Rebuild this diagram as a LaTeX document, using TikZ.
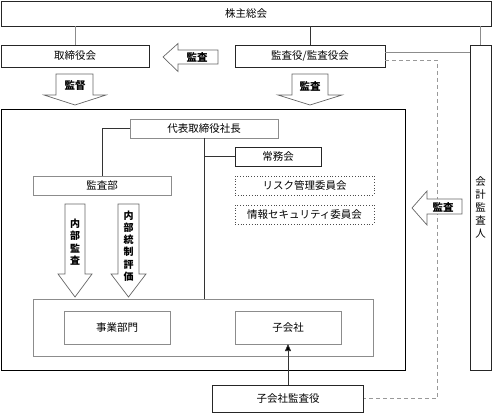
\documentclass[tikz,border=0pt]{standalone}
\usepackage{fontspec}
\setmainfont{Noto Sans CJK JP}
\usetikzlibrary{arrows.meta,calc}
\tikzset{
  box/.style={draw=black!85, line width=0.8pt, inner sep=0pt, outer sep=0pt, font=\fontsize{10.5}{12}\selectfont},
  gbox/.style={box, draw=black!45},
  dbox/.style={box, draw=black!70, dotted, line width=0.7pt},
  conn/.style={draw=black!80, line width=0.7pt},
  gconn/.style={draw=black!45, line width=0.8pt},
  dconn/.style={draw=black!40, dashed, line width=0.7pt, dash pattern=on 4pt off 3pt},
  barrow/.style={draw=black!60, fill=white, line width=0.7pt},
  blabel/.style={inner sep=0pt, font=\fontsize{10.5}{12}\selectfont\bfseries},
  vlabel/.style={inner sep=0pt, align=center, font=\fontsize{10}{12.3}\selectfont\bfseries},
}
\begin{document}
\begin{tikzpicture}[x=1pt,y=-1pt]
\useasboundingbox (0,0) rectangle (493,414);

% outer frame of the executive area
\draw[line width=1pt, draw=black] (1,110) rectangle (405,370);

% boxes
\node[box, minimum width=490pt, minimum height=25pt] (top) at (246,13.5) {株主総会};
\node[box, minimum width=148pt, minimum height=22pt] (tori) at (75,56) {取締役会};
\node[box, minimum width=150pt, minimum height=22pt] (kansa) at (310,56) {監査役/監査役会};
\node[box, minimum width=21pt, minimum height=325pt, align=center,
      font=\fontsize{10.5}{13}\selectfont] (kaikei) at (480.5,207.5) {会\\計\\監\\査\\人};
\node[gbox, minimum width=148pt, minimum height=19pt] (daihyo) at (204,128.5) {代表取締役社長};
\node[box, minimum width=86pt, minimum height=19pt] (jomu) at (278,156.5) {常務会};
\node[dbox, minimum width=139pt, minimum height=19pt] (risk) at (304.5,185.5) {リスク管理委員会};
\node[dbox, minimum width=139pt, minimum height=19pt] (joho) at (304.5,214.5) {情報セキュリティ委員会};
\node[gbox, minimum width=138pt, minimum height=19pt] (kansabu) at (102,185.5) {監査部};
\node[gbox, minimum width=340pt, minimum height=57pt] (group) at (203,327.5) {};
\node[gbox, minimum width=106pt, minimum height=33pt] (jigyo) at (117,327.5) {事業部門};
\node[gbox, minimum width=106pt, minimum height=33pt] (kogaisha) at (288,327.5) {子会社};
\node[box, minimum width=151pt, minimum height=27pt] (kokansa) at (288,398.5) {子会社監査役};

% connectors from shareholders meeting
\draw[gconn] (tori.north) -- (tori.north |- top.south);
\draw[conn] (kansa.north) -- (kansa.north |- top.south);
\draw[gconn] (kaikei.north) -- (kaikei.north |- top.south);
\draw[gconn] (kansa.east |- 0,52) -- (kaikei.west |- 0,52);
\draw[dconn] (kansa.east |- 0,60) -- (437,60) -- (437,398.5) -- (kokansa.east);

% executive connectors
\draw[conn] (daihyo.west) -| (kansabu.north);
\draw[conn] (daihyo.south) -- (daihyo.south |- group.north);
\draw[conn] (daihyo.south |- jomu.west) -- (jomu.west);
\draw[conn, -{Triangle[length=7pt,width=6pt,fill=black]}] (kokansa.north) -- (kogaisha.south);

% block arrows
% 監査 (left, top)
\draw[barrow] (218,50) -- (178,50) -- (178,43.5) -- (163,57) -- (178,71.5) -- (178,64) -- (218,64) -- cycle;
\node[blabel] (la1) at (197,57) {監査};
% 監督 (down)
\draw[barrow] (56,74) -- (93,74) -- (93,95) -- (106,95) -- (75,105) -- (44,95) -- (56,95) -- cycle;
\node[blabel] (la2) at (75,86) {監督};
% 監査 (down)
\draw[barrow] (292,74) -- (328,74) -- (328,95) -- (342,95) -- (310,105) -- (278,95) -- (292,95) -- cycle;
\node[blabel] (la3) at (310,86) {監査};
% 監査 (left, right side)
\draw[barrow] (462,199) -- (427,199) -- (427,191) -- (412,208) -- (427,225) -- (427,214) -- (462,214) -- cycle;
\node[blabel] (la4) at (443,207) {監査};
% 内部監査
\draw[barrow] (65,204) -- (85,204) -- (85,274) -- (92,274) -- (75,297) -- (58,274) -- (65,274) -- cycle;
\node[vlabel] (la5) at (75,242) {内\\部\\監\\査};
% 内部統制評価
\draw[barrow] (118,204) -- (139,204) -- (139,274) -- (146,274) -- (128.5,297) -- (111,274) -- (118,274) -- cycle;
\node[vlabel] (la6) at (128.5,246) {内\\部\\統\\制\\評\\価};
\end{tikzpicture}
\end{document}
